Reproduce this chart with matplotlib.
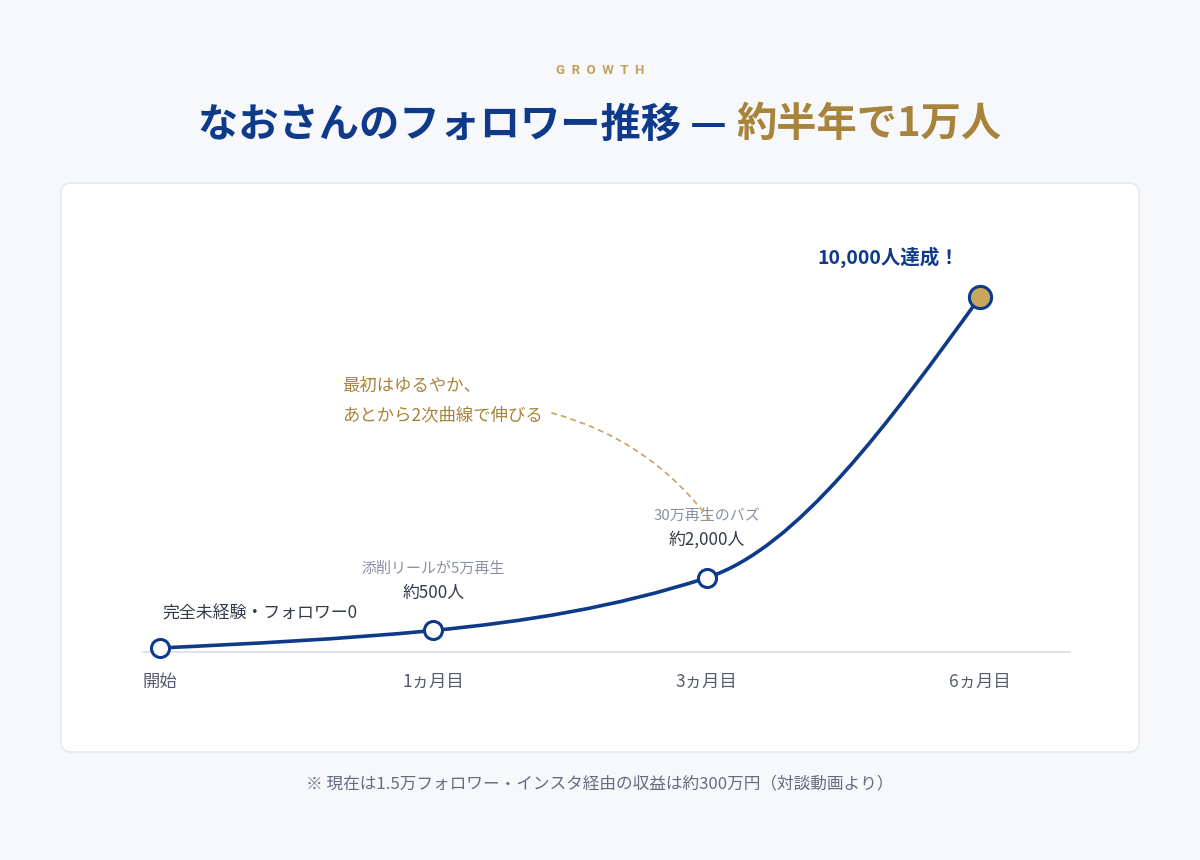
import matplotlib
matplotlib.use("Agg")
import matplotlib.pyplot as plt
from matplotlib.path import Path
from matplotlib.patches import PathPatch, FancyBboxPatch

plt.rcParams['font.family'] = ['Noto Sans CJK JP', 'DejaVu Sans']

# data
stages = ["開始", "1ヵ月目", "3ヵ月目", "6ヵ月目"]
followers = [0, 500, 2000, 10000]
value_labels = ["完全未経験・フォロワー0", "約500人", "約2,000人", "10,000人達成！"]
event_labels = ["", "添削リールが5万再生", "30万再生のバズ", ""]

NAVY = "#0f3a8a"
GOLD = "#a8833a"
GOLD_FILL = "#c8a660"
BG = "#f7f8fc"

fig = plt.figure(figsize=(12, 8.6), dpi=100, facecolor=BG)

# card
card = FancyBboxPatch((0.61, 1.08), 10.78, 5.69, boxstyle="round,pad=0,rounding_size=0.1",
                      transform=fig.dpi_scale_trans, facecolor="white",
                      edgecolor="#e3e6ee", linewidth=1.0, zorder=0)
fig.add_artist(card)

# header
fig.text(0.5, 1 - 70 / 860, "G  R  O  W  T  H", ha="center", va="center", fontsize=9.5,
         color="#c2a25a", fontweight="bold", family=["Roboto", "DejaVu Sans"])

t1 = fig.text(0, 1 - 125 / 860, "なおさんのフォロワー推移 — ", ha="left", va="center",
              fontsize=29, fontweight="bold", color=NAVY)
t2 = fig.text(0, 1 - 125 / 860, "約半年で1万人", ha="left", va="center",
              fontsize=29, fontweight="bold", color=GOLD)
r = fig.canvas.get_renderer()
w1 = t1.get_window_extent(r).width
w2 = t2.get_window_extent(r).width
x0 = (1200 - w1 - w2) / 2
t1.set_x(x0 / 1200)
t2.set_x((x0 + w1) / 1200)

# footnote
fig.text(0.5, 1 - 784 / 860, "※ 現在は1.5万フォロワー・インスタ経由の収益は約300万円（対談動画より）",
         ha="center", va="center", fontsize=12, color="#666c80")

# axes
ax = fig.add_axes([143 / 1200, 1 - 652 / 860, (1070 - 143) / 1200, (652 - 200) / 860])
ax.set_facecolor("none")
xs = list(range(len(stages)))
ax.set_xlim(-17 / 273.3, 3 + 90 / 273.3)
ax.set_ylim(-114, 12764)
for s in ["top", "right", "left"]:
    ax.spines[s].set_visible(False)
ax.spines["bottom"].set_color("#dde1ec")
ax.spines["bottom"].set_linewidth(1.3)
ax.set_yticks([])
ax.set_xticks(xs, stages)
ax.tick_params(axis="x", length=0, pad=15, labelsize=12.5, labelcolor="#555c70")

# smooth curve through the points (pchip-style tangents)
n = len(xs)
sl = [(followers[i + 1] - followers[i]) / (xs[i + 1] - xs[i]) for i in range(n - 1)]
m = [0.0] * n
for i in range(1, n - 1):
    a, b = sl[i - 1], sl[i]
    m[i] = 2 * a * b / (a + b) if a * b > 0 else 0.0
m[0] = (3 * sl[0] - m[1]) / 2
m[-1] = (3 * sl[-1] - m[-2]) / 2
verts = [(xs[0], followers[0])]
codes = [Path.MOVETO]
for i in range(n - 1):
    h = xs[i + 1] - xs[i]
    verts += [(xs[i] + h / 3, followers[i] + m[i] * h / 3),
              (xs[i + 1] - h / 3, followers[i + 1] - m[i + 1] * h / 3),
              (xs[i + 1], followers[i + 1])]
    codes += [Path.CURVE4] * 3
ax.add_patch(PathPatch(Path(verts, codes), facecolor="none", edgecolor=NAVY,
                       linewidth=2.6, capstyle="round", zorder=2))

ax.plot(xs[:-1], followers[:-1], "o", markersize=13, markerfacecolor="white",
        markeredgecolor=NAVY, markeredgewidth=2.2, zorder=3, clip_on=False)
ax.plot(xs[-1:], followers[-1:], "o", markersize=16, markerfacecolor=GOLD_FILL,
        markeredgecolor=NAVY, markeredgewidth=2.2, zorder=3, clip_on=False)

# labels
ax.annotate(value_labels[0], (xs[0], followers[0]), xytext=(2, 34), textcoords="offset pixels",
            ha="left", va="center", fontsize=12.2, color="#333a4a")
for i in (1, 2):
    ax.annotate(event_labels[i], (xs[i], followers[i]), xytext=(0, 62), textcoords="offset pixels",
                ha="center", va="center", fontsize=10.8, color="#8a90a6")
    ax.annotate(value_labels[i], (xs[i], followers[i]), xytext=(0, 38), textcoords="offset pixels",
                ha="center", va="center", fontsize=12.2, color="#333a4a")
ax.annotate(value_labels[3], (xs[3], followers[3]), xytext=(-92, 40), textcoords="offset pixels",
            ha="center", va="center", fontsize=14, fontweight="bold", color=NAVY)

# note
ax.annotate("最初はゆるやか、", (342, 860 - 386), xycoords="figure pixels",
            ha="left", va="center", fontsize=12.5, color=GOLD, annotation_clip=False)
ax.annotate("あとから2次曲線で伸びる", (342, 860 - 415), xycoords="figure pixels",
            ha="left", va="center", fontsize=12.5, color=GOLD, annotation_clip=False)
ax.annotate("", xy=(710, 860 - 520), xytext=(552, 860 - 413),
            xycoords="figure pixels", textcoords="figure pixels",
            arrowprops=dict(arrowstyle="-", linestyle=(0, (2.5, 3)), color="#c9a86a",
                            linewidth=1.3, connectionstyle="arc3,rad=-0.17",
                            shrinkA=0, shrinkB=0), annotation_clip=False)

fig.savefig("out.png", dpi=100, facecolor=BG)
